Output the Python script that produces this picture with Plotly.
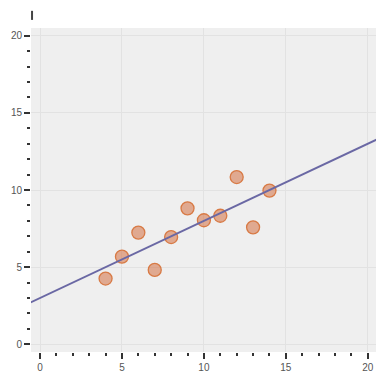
import plotly.graph_objects as go

x_vals = [10, 8, 13, 9, 11, 14, 6, 4, 12, 7, 5]
y_vals = [8.04, 6.95, 7.58, 8.81, 8.33, 9.96, 7.24, 4.26, 10.84, 4.82, 5.68]

# Fitted line endpoints
line_x = [-1, 21]
line_y = [2.5, 13.5]

tick_vals = [0, 5, 10, 15, 20]
tick_text = ["0", "5", "10", "15", "20"]

# clipped tick labels of the neighbouring panel at the right edge (only first glyph visible)
right_labels = ["2", "1", "1"]
right_pos = [20, 15, 10]

fig = go.Figure()
fig.add_trace(go.Scatter(x=x_vals, y=y_vals, mode="markers",
                         marker=dict(size=13, color="rgba(210,100,50,0.5)",
                                     line=dict(color="#d87a45", width=1.3)),
                         showlegend=False))
fig.add_trace(go.Scatter(x=line_x, y=line_y, mode="lines",
                         line=dict(color="#6a68a4", width=2), showlegend=False,
                         hoverinfo="skip"))

axis_common = dict(
    tickvals=tick_vals, ticktext=tick_text,
    ticks="outside", ticklen=6, tickwidth=1.5, tickcolor="#333",
    showgrid=True, gridcolor="#e2e2e2", gridwidth=1,
    zeroline=False, showline=False, automargin=False,
    tickfont=dict(family="Liberation Sans, Arial, sans-serif", size=10, color="#555"),
    minor=dict(dtick=1, ticks="outside", ticklen=3, tickwidth=1.5, tickcolor="#333", showgrid=False),
)

fig.update_xaxes(**axis_common)
fig.update_yaxes(**axis_common)
fig.update_xaxes(range=[-0.55, 20.5])
fig.update_yaxes(range=[-0.5, 20.5])

for lab, pos in zip(right_labels, right_pos):
    fig.add_annotation(x=1.004, xref="paper", y=pos, yref="y", text=lab,
                       showarrow=False, xanchor="left", yanchor="middle",
                       font=dict(family="Liberation Sans, Arial, sans-serif", size=10, color="#666"))

fig.add_shape(type="line", xref="paper", yref="paper", x0=0.003, x1=0.003, y0=1.025, y1=1.053,
              line=dict(color="#444", width=2))

# The page body has an 8px margin, so the figure is sized to the remaining window area
fig.update_layout(
    width=376, height=373,
    margin=dict(l=23, r=8, t=20, b=29),
    plot_bgcolor="#efefef", paper_bgcolor="white",
)

fig.write_html("out.html")
